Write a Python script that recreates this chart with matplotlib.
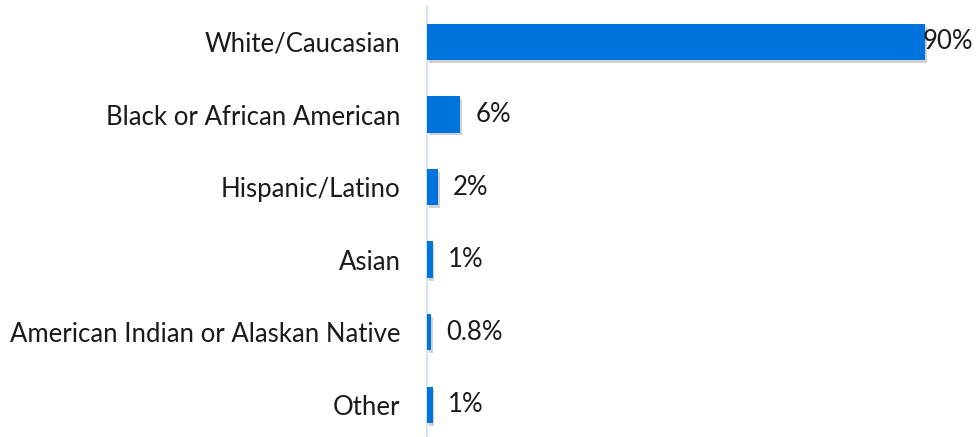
import matplotlib
matplotlib.use("Agg")
import matplotlib.pyplot as plt
import matplotlib.patheffects as pe

categories = ["White/Caucasian", "Black or African American", "Hispanic/Latino",
              "Asian", "American Indian or Alaskan Native", "Other"]
values = [90, 6, 2, 1, 0.8, 1]
value_labels = ["90%", "6%", "2%", "1%", "0.8%", "1%"]

plt.rcParams["font.family"] = ["Lato", "DejaVu Sans"]

W, H = 980, 437
fig = plt.figure(figsize=(W / 100, H / 100), dpi=100)
ax = fig.add_axes([427 / W, -4 / H, (972 - 427) / W, 435.3 / H])

bar_color = "#0073DD"
ypos = list(range(len(categories)))
bars = ax.barh(ypos, values, height=0.5, color=bar_color, zorder=3)
for b in bars:
    b.set_path_effects([pe.SimplePatchShadow(offset=(1.2, -2.0), shadow_rgbFace="#000000", alpha=0.18),
                        pe.Normal()])

ax.set_ylim(len(categories) - 0.5, -0.5)
ax.set_xlim(0, 98.5)

for s in ["top", "right", "bottom"]:
    ax.spines[s].set_visible(False)
ax.spines["left"].set_color("#D4E4F7")
ax.spines["left"].set_linewidth(1.5)
ax.set_xticks([])
ax.set_yticks(ypos)
ax.set_yticklabels(categories, fontsize=18.5, color="#1a1a1a")
ax.tick_params(axis="y", length=0, pad=19)

xmax = ax.get_xlim()[1]
for v, lab, y in zip(values, value_labels, ypos):
    off = 15 if v < 0.8 * xmax else -2
    ax.annotate(lab, xy=(v, y), xytext=(off, 0), textcoords="offset pixels",
                va="center", ha="left", fontsize=18.5, color="#1a1a1a")

fig.savefig("out.png", dpi=100)
